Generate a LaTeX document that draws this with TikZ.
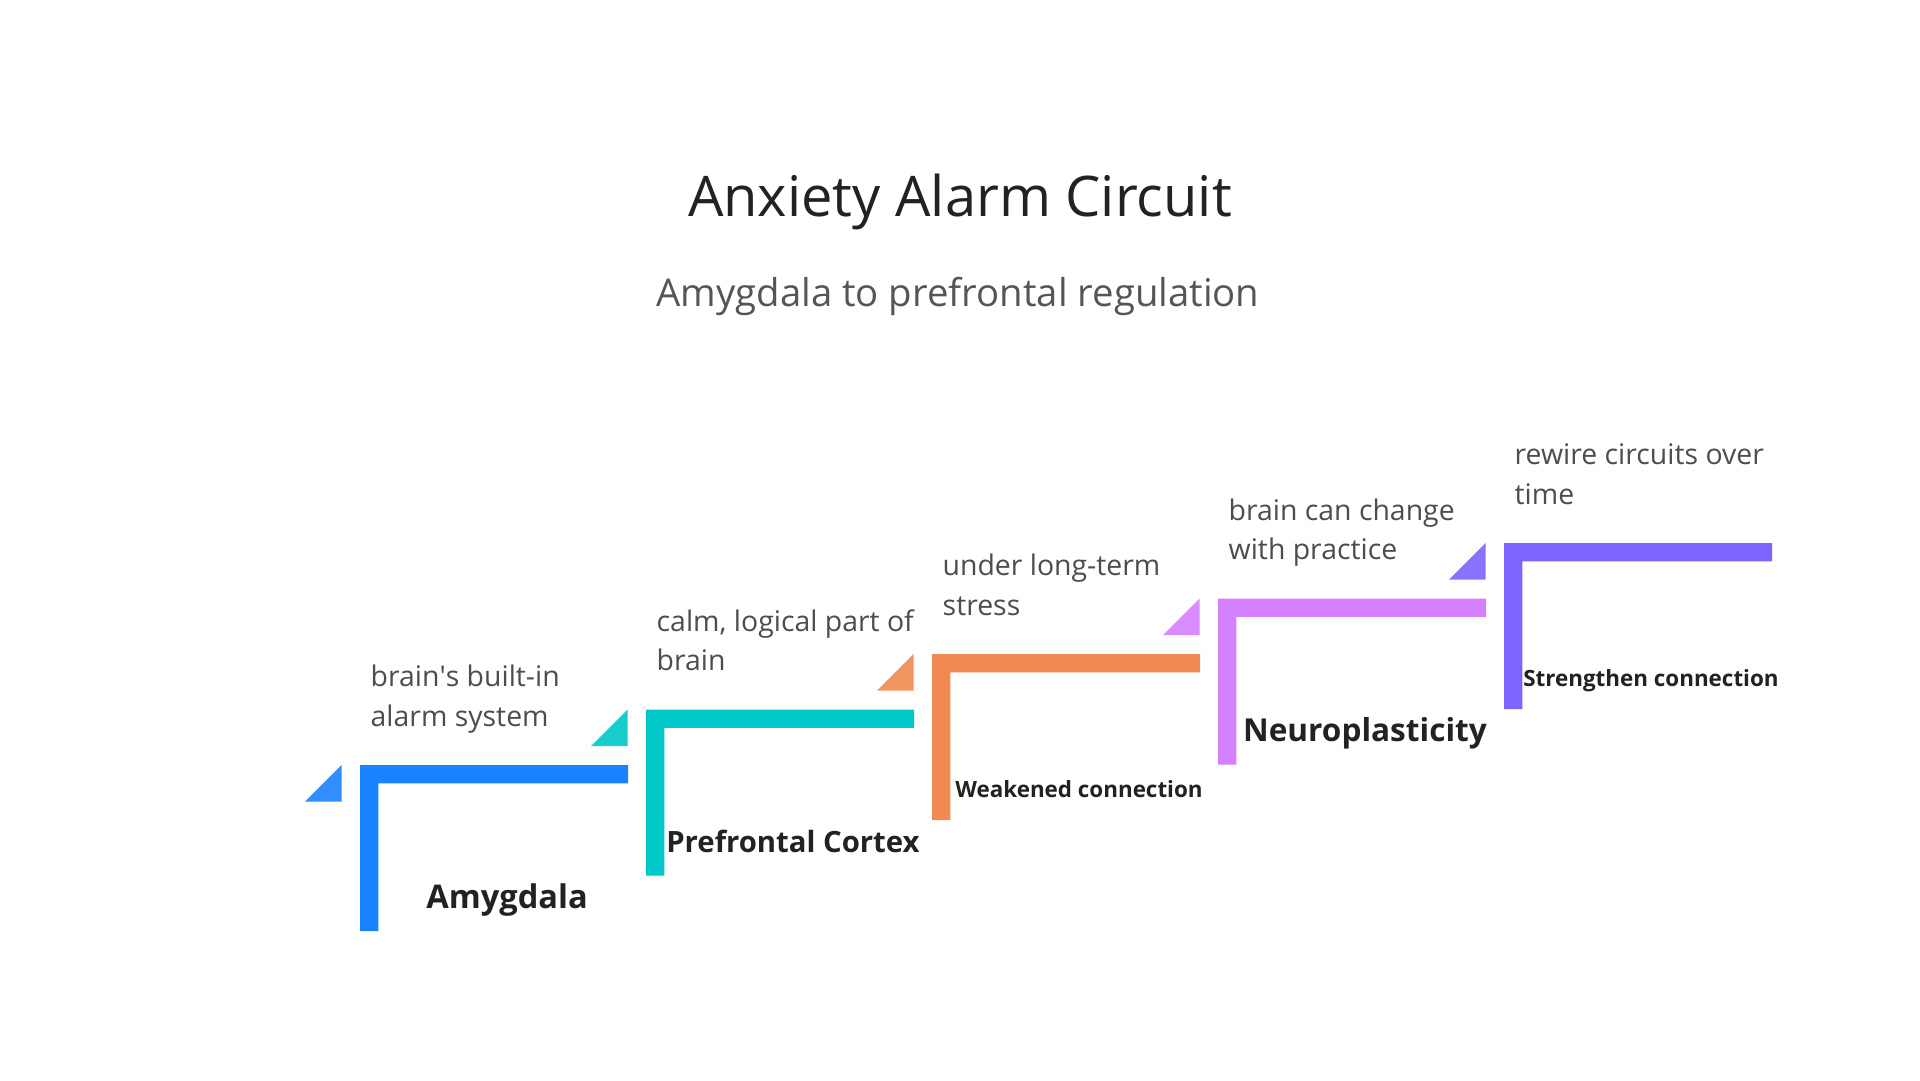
\documentclass[tikz,border=0pt]{standalone}
\usepackage{fontspec}
\setmainfont{Open Sans}
\usepackage{xcolor}
\usetikzlibrary{positioning}

\definecolor{amyblue}{HTML}{1A82FF}
\definecolor{pfcteal}{HTML}{00C8C8}
\definecolor{weakorange}{HTML}{F08A50}
\definecolor{plastpink}{HTML}{D580FF}
\definecolor{strongpurple}{HTML}{7B64FF}
\definecolor{headgray}{HTML}{222222}
\definecolor{subgray}{HTML}{555555}
\definecolor{descgray}{HTML}{4D4D4D}

\begin{document}
\begin{tikzpicture}[
  x=1pt, y=-1pt,
  stair/.style={fill=#1, draw=none},
  wedge/.style={fill=#1, fill opacity=0.9, draw=none},
  head/.style={anchor=base, inner sep=0pt, text=headgray, font=\fontsize{56}{60}\selectfont},
  subhead/.style={anchor=base, inner sep=0pt, text=subgray, font=\fontsize{38.3}{40}\selectfont},
  desc/.style={anchor=base west, align=left, inner sep=0pt, text=descgray, font=\fontsize{28.4}{39.5}\selectfont},
  lbl/.style={anchor=base, inner sep=0pt, text=headgray, font=\bfseries\fontsize{#1}{#1}\selectfont}
]
\useasboundingbox[fill=white] (0,0) rectangle (1920,1080);

\node[head] (title) at (960,216.7) {Anxiety Alarm Circuit};
\node[subhead] (subtitle) at (958,306.7) {Amygdala to prefrontal regulation};

% stairs, lower left to upper right
\fill[stair=amyblue] (360,765) -- ++(268,0) -- ++(0,18.4) -- ++(-249.6,0) -- ++(0,147.6) -- ++(-18.4,0) -- cycle;
\fill[wedge=amyblue] (305,801.7) -- ++(36.7,0) -- ++(0,-36.7) -- cycle;
\node[desc] (amydesc) at (370.5,726) {brain\textquotesingle s built-in\\alarm system};
\node[lbl=32.6] (amy) at (507,908) {Amygdala};

\fill[stair=pfcteal] (646,709.5) -- ++(268,0) -- ++(0,18.4) -- ++(-249.6,0) -- ++(0,147.6) -- ++(-18.4,0) -- cycle;
\fill[wedge=pfcteal] (591,746.2) -- ++(36.7,0) -- ++(0,-36.7) -- cycle;
\node[desc] (pfcdesc) at (656.5,670.5) {calm, logical part of\\brain};
\node[lbl=29.3] (pfc) at (793,852.5) {Prefrontal Cortex};

\fill[stair=weakorange] (932,654) -- ++(268,0) -- ++(0,18.4) -- ++(-249.6,0) -- ++(0,147.6) -- ++(-18.4,0) -- cycle;
\fill[wedge=weakorange] (877,690.7) -- ++(36.7,0) -- ++(0,-36.7) -- cycle;
\node[desc] (weakdesc) at (942.5,615) {under long-term\\stress};
\node[lbl=22.4] (weak) at (1079,797) {Weakened connection};

\fill[stair=plastpink] (1218,598.5) -- ++(268,0) -- ++(0,18.4) -- ++(-249.6,0) -- ++(0,147.6) -- ++(-18.4,0) -- cycle;
\fill[wedge=plastpink] (1163,635.2) -- ++(36.7,0) -- ++(0,-36.7) -- cycle;
\node[desc] (plastdesc) at (1228.5,559.5) {brain can change\\with practice};
\node[lbl=31.6] (plast) at (1365,741.5) {Neuroplasticity};

\fill[stair=strongpurple] (1504,543) -- ++(268,0) -- ++(0,18.4) -- ++(-249.6,0) -- ++(0,147.6) -- ++(-18.4,0) -- cycle;
\fill[wedge=strongpurple] (1449,579.7) -- ++(36.7,0) -- ++(0,-36.7) -- cycle;
\node[desc] (strongdesc) at (1514.5,504) {rewire circuits over\\time};
\node[lbl=22.4] (strong) at (1651,686) {Strengthen connection};
\end{tikzpicture}
\end{document}
